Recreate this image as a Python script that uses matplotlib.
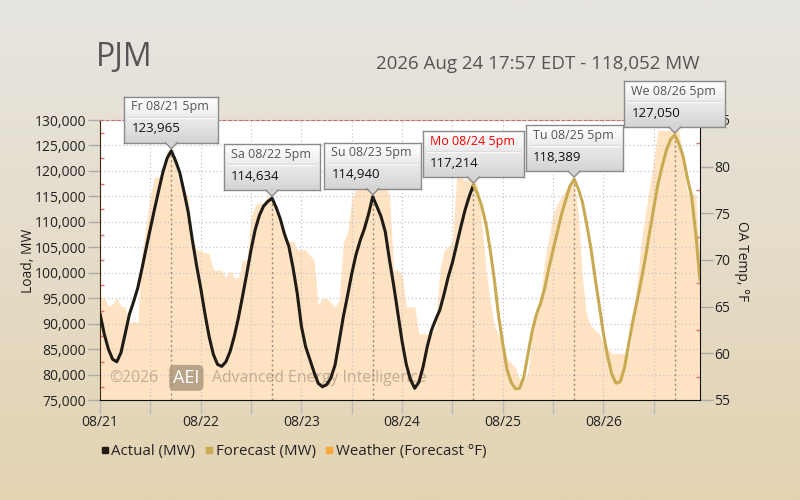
import numpy as np
import matplotlib
matplotlib.use('Agg')
import matplotlib.pyplot as plt
from matplotlib.lines import Line2D
from matplotlib.patches import Polygon
from matplotlib.ticker import FuncFormatter, MultipleLocator

plt.rcParams['font.family'] = ['Open Sans', 'DejaVu Sans']

# hourly load, MW (actual from 08/21 00:00 up to 08/24 17:00)
load_actual = [92000, 88000, 85000, 83000, 82500, 84300, 88000, 91800, 94300, 97000,
               100800, 104800, 108700, 112500, 116200, 119800, 122500, 123965, 122000, 119700,
               116000, 112000, 106500, 101500, 97000, 92000, 87500, 84000, 82000, 81600,
               82500, 84500, 87500, 91200, 95500, 99900, 104500, 108500, 111300, 113100,
               114000, 114634, 112800, 110500, 107500, 105200, 101000, 96000, 89500, 85500,
               83000, 80500, 78300, 77600, 78000, 79300, 81800, 86500, 91400, 95500,
               99800, 103500, 106300, 108600, 111500, 114940, 113000, 111000, 108000, 102500,
               97500, 92000, 86500, 82000, 79000, 77300, 78500, 81500, 85500, 88700,
               90800, 92700, 95800, 99200, 102000, 105500, 109000, 112300, 115000, 117214]

# hourly load forecast, MW (08/24 17:00 to 08/26 23:00)
load_forecast = [117214, 115500, 113000, 109500, 104500, 98500, 91500, 86000, 81000, 78500,
                 77200, 77300, 79500, 84000, 88500, 91800, 94000, 97000, 101000, 104500,
                 108000, 111500, 114300, 117000, 118389, 116500, 113800, 109500, 104800, 99000,
                 93500, 88000, 83500, 80000, 78300, 78600, 81300, 86000, 90500, 94500,
                 98500, 103000, 108000, 112800, 117500, 121000, 124100, 126200, 127050, 125300,
                 122800, 118500, 115000, 107500, 98500]

# hourly weather forecast, deg F
temp_forecast = [66.0, 66.0, 65.0, 65.3, 66.0, 65.0, 65.0, 63.2, 63.5, 63.3,
                 70.7, 73.7, 77.0, 78.9, 78.9, 78.9, 81.8, 81.8, 80.0, 78.2,
                 77.5, 76.8, 72.5, 71.1, 71.0, 70.8, 70.7, 68.9, 68.9, 68.9,
                 68.1, 68.9, 68.1, 68.1, 70.0, 70.0, 74.5, 75.9, 76.1, 76.1,
                 77.0, 76.8, 75.5, 74.3, 73.0, 72.0, 72.0, 71.1, 71.1, 71.1,
                 70.5, 70.0, 65.2, 65.9, 65.9, 65.5, 65.0, 65.7, 72.0, 72.9,
                 76.5, 77.7, 77.7, 77.7, 77.7, 77.7, 77.7, 77.7, 77.7, 77.0,
                 68.9, 68.9, 68.5, 65.0, 65.0, 65.0, 62.1, 62.1, 62.1, 62.3,
                 63.0, 68.9, 71.0, 71.4, 72.0, 78.9, 78.9, 78.5, 78.9, 78.9,
                 78.0, 74.0, 69.0, 65.5, 63.0, 62.0, 61.0, 59.5, 59.0, 58.5,
                 57.2, 57.2, 58.0, 62.0, 64.0, 66.0, 70.0, 72.5, 75.0, 76.0,
                 76.8, 77.5, 78.2, 78.6, 75.0, 68.0, 64.0, 63.0, 62.5, 62.0,
                 61.0, 60.5, 60.0, 60.0, 60.0, 60.0, 60.0, 63.0, 67.5, 72.0,
                 75.0, 77.9, 80.7, 83.9, 83.9, 83.9, 83.9, 83.9, 83.9, 80.0,
                 77.2, 77.2, 77.0, 70.0]

day_labels = ['08/21', '08/22', '08/23', '08/24', '08/25', '08/26']
peak_hours = [17, 41, 65, 89, 113, 137]
peak_labels = ['Fr 08/21 5pm', 'Sa 08/22 5pm', 'Su 08/23 5pm',
               'Mo 08/24 5pm', 'Tu 08/25 5pm', 'We 08/26 5pm']
peak_label_colors = ['#555555', '#555555', '#555555', '#ff0000', '#555555', '#555555']

hours = np.arange(len(temp_forecast))
n_act = len(load_actual)
h_act = hours[:n_act]
h_fc = hours[n_act - 1:]
load_all = load_actual + load_forecast[1:]
peak_vals = [load_all[h] for h in peak_hours]

c_actual = '#1f1b15'
c_fc = '#c8aa52'
c_weather = '#f5a83a'

W, H = 800, 500
fig = plt.figure(figsize=(8, 5), dpi=100)

# background gradient
bg = fig.add_axes([0, 0, 1, 1], zorder=-10)
top = np.array([231, 229, 225]) / 255.
bot = np.array([227, 211, 177]) / 255.
g = np.linspace(0, 1, 256)[:, None, None]
bg.imshow(top + (bot - top) * g, aspect='auto', extent=[0, 1, 0, 1])
bg.axis('off')

ax = fig.add_axes([100 / W, 100 / H, 600 / W, 280 / H])
ax2 = ax.twinx()
ax.set_zorder(ax2.get_zorder() + 1)
ax.patch.set_visible(False)
ax2.patch.set_visible(True)
ax2.patch.set_facecolor('white')

# weather fill (bottom layer)
ax2.fill_between(hours, 55, temp_forecast, color='#ffe3c2', lw=0)
ax2.set_ylim(55, 85)
ax2.set_yticks(range(55, 86, 5))
ax2.yaxis.set_minor_locator(MultipleLocator(2.5))
ax2.tick_params(axis='y', which='major', direction='out', length=9, width=1,
                color='#aaaaaa', labelsize=10, labelcolor='#222222', pad=1)
ax2.tick_params(axis='y', which='minor', direction='in', length=3, width=1, color='#e07070')
for s in ax2.spines.values():
    s.set_visible(False)

# load axis (top layer)
ax.set_xlim(0, hours[-1])
ax.set_ylim(75000, 130000)
ax.set_yticks(range(75000, 130001, 5000))
ax.yaxis.set_minor_locator(MultipleLocator(2500))
ax.yaxis.set_major_formatter(FuncFormatter(lambda v, p: f'{int(v):,}'))
xt = list(range(0, len(hours), 12))
ax.set_xticks(xt)
ax.set_xticklabels([day_labels[i // 2] if i % 2 == 0 else '' for i in range(len(xt))])
ax.tick_params(axis='y', which='major', direction='out', length=9, width=1,
               color='#aaaaaa', labelsize=10, labelcolor='#222222', pad=1)
ax.tick_params(axis='y', which='minor', direction='in', length=3, width=1, color='#e07070')
ax.tick_params(axis='x', direction='out', length=10, width=1, color='#bbbbbb',
               labelsize=10, labelcolor='#222222', pad=1)
ax.grid(which='major', color='#c8c8c8', linestyle=(0, (1, 2)), lw=0.9)
ax.spines['left'].set_color('#3b2a12')
ax.spines['bottom'].set_color('#111111')
ax.spines['right'].set_color('#111111')
ax.spines['top'].set_color('#c87070')
ax.spines['top'].set_linestyle((0, (3, 2)))
ax.spines['top'].set_linewidth(0.8)

ax.vlines(peak_hours, 75000, peak_vals, colors='#9a8a7a', linestyles=(0, (1.5, 2)), lw=1, zorder=2)

# watermark
wm = dict(transform=ax.transAxes, fontsize=11.3, va='center', color='#9d8b74', alpha=0.6, zorder=2)
ax.text(0.016, 0.079, '\u00a92026', **wm)
ax.text(0.144, 0.079, 'AEI', ha='center', fontsize=13, color='white', va='center',
        transform=ax.transAxes, zorder=2,
        bbox=dict(boxstyle='round,pad=0.22,rounding_size=0.3', fc='#a8957a', ec='none', alpha=0.8))
ax.text(0.186, 0.079, 'Advanced Energy Intelligence', **wm)

ax.plot(h_act, load_actual, color=c_actual, lw=2.2, zorder=3, solid_capstyle='round')
ax.plot(h_fc, load_forecast, color=c_fc, lw=2.2, zorder=3, solid_capstyle='round')

# titles and axis labels
fig.text(96 / W, 1 - 57 / H, 'PJM', fontsize=23, color='#555555', va='center')
fig.text(700 / W, 1 - 64 / H, '2026 Aug 24 17:57 EDT - 118,052 MW', fontsize=13.5,
         color='#555555', va='center', ha='right')
fig.text(29 / W, 1 - 261 / H, 'Load, MW', rotation=90, fontsize=10, color='#222222',
         va='center', ha='center')
fig.text(741 / W, 1 - 261 / H, 'OA Temp, \u00b0F', rotation=270, fontsize=10, color='#222222',
         va='center', ha='center')

# legend
handles = [Line2D([], [], ls='none', marker='s', ms=5, color=c) for c in (c_actual, c_fc, c_weather)]
fig.legend(handles, ['Actual (MW)', 'Forecast (MW)', 'Weather (Forecast \u00b0F)'],
           loc='center left', bbox_to_anchor=(88 / W, 1 - 452 / H), ncol=3, frameon=False,
           fontsize=10.8, handlelength=0.4, handletextpad=0.25, columnspacing=0.7,
           labelcolor='#222222')

# peak tooltips
fig.canvas.draw()
r = fig.canvas.get_renderer()
box_h = 46
gbox = np.linspace(1.0, 0.83, 64)[:, None, None] * np.ones((1, 1, 3))
for h, v, lab, lc in zip(peak_hours, peak_vals, peak_labels, peak_label_colors):
    px, py = ax.transData.transform((h, v))
    t1 = fig.text(0, 0, lab, fontsize=9)
    t2 = fig.text(0, 0, f'{v:,}', fontsize=9.5)
    tw = max(t1.get_window_extent(r).width, t2.get_window_extent(r).width)
    t1.remove()
    t2.remove()
    bw = tw + 16
    bx = px - bw / 2
    by = py + 8
    tax = fig.add_axes([bx / W, by / H, bw / W, box_h / H], zorder=10)
    tax.imshow(gbox, aspect='auto', extent=[0, 1, 0, 1])
    tax.set_xlim(0, 1)
    tax.set_ylim(0, 1)
    tax.set_xticks([])
    tax.set_yticks([])
    for s in tax.spines.values():
        s.set_color('#8a8a8a')
        s.set_linewidth(1)
    tax.text(7 / bw, 1 - 10 / box_h, lab, fontsize=9, color=lc, va='center', transform=tax.transAxes)
    tax.plot([4 / bw, 1 - 4 / bw], [1 - 20 / box_h] * 2, color='#d6d6d6', lw=1)
    tax.plot([4 / bw, 1 - 4 / bw], [1 - 21 / box_h] * 2, color='#fafafa', lw=1)
    tax.text(7 / bw, 1 - 32 / box_h, f'{v:,}', fontsize=9.5, color='#111111', va='center',
             transform=tax.transAxes)
    tri = [((px - 6) / W, (by + 1) / H), (px / W, (by - 6) / H), ((px + 6) / W, (by + 1) / H)]
    fig.patches.append(Polygon(tri, closed=True, transform=fig.transFigure, fc='#d4d4d4',
                               ec='none', zorder=11))
    fig.lines.append(Line2D([tri[0][0], tri[1][0], tri[2][0]], [by / H, tri[1][1], by / H],
                            transform=fig.transFigure, color='#8a8a8a', lw=1, zorder=12))

fig.savefig('out.png', dpi=100)
